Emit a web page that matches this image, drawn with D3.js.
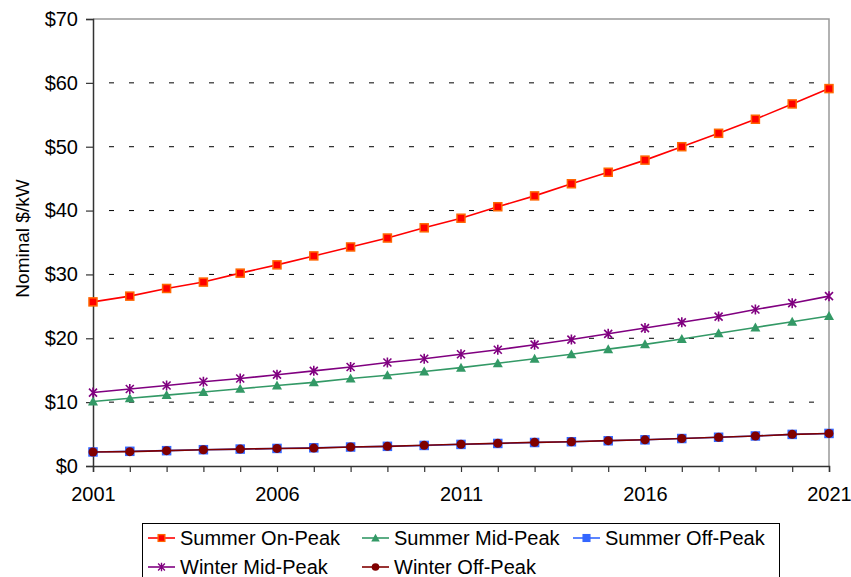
<!DOCTYPE html>
<html>
<head>
<meta charset="utf-8">
<script src="https://cdn.jsdelivr.net/npm/d3@7"></script>
<style>
  body { margin: 0; background: #fff; }
  text { font-family: "Liberation Sans", Arial, sans-serif; }
</style>
</head>
<body>
<div class="container"></div>
<script>
// years along the horizontal axis
const years = d3.range(2001, 2022);
const xTicks = [2001, 2006, 2011, 2016, 2021];
const yTicks = [0, 10, 20, 30, 40, 50, 60, 70];

// values, nominal $/kW
const summerOnPeak = [25.7, 26.6, 27.8, 28.8, 30.2, 31.5, 32.9, 34.3, 35.7, 37.3, 38.8,
  40.6, 42.3, 44.2, 46.0, 47.9, 50.0, 52.1, 54.3, 56.7, 59.1];
const summerMidPeak = [10.1, 10.6, 11.1, 11.6, 12.1, 12.6, 13.1, 13.7, 14.2, 14.8, 15.4,
  16.1, 16.8, 17.5, 18.3, 19.05, 19.9, 20.8, 21.7, 22.6, 23.5];
const summerOffPeak = [2.2, 2.3, 2.4, 2.55, 2.65, 2.75, 2.85, 2.97, 3.08, 3.22, 3.38,
  3.53, 3.68, 3.8, 3.95, 4.1, 4.3, 4.5, 4.7, 4.95, 5.1];
const winterMidPeak = [11.5, 12.05, 12.6, 13.2, 13.7, 14.3, 14.9, 15.5, 16.2, 16.8, 17.5,
  18.2, 19.0, 19.8, 20.7, 21.6, 22.5, 23.4, 24.5, 25.5, 26.6];
const winterOffPeak = [2.2, 2.25, 2.4, 2.55, 2.65, 2.75, 2.8, 2.97, 3.08, 3.24, 3.4,
  3.55, 3.7, 3.8, 3.97, 4.1, 4.3, 4.5, 4.7, 4.96, 5.1];

const series = [
  { name: "Summer On-Peak", values: summerOnPeak, color: "#ff0000", fill: "#ff0000", edge: "#ff6600", symbol: "square" },
  { name: "Summer Mid-Peak", values: summerMidPeak, color: "#339966", fill: "#339966", edge: "#339966", symbol: "triangle" },
  { name: "Summer Off-Peak", values: summerOffPeak, color: "#3366ff", fill: "#3366ff", edge: "#3366ff", symbol: "square" },
  { name: "Winter Mid-Peak", values: winterMidPeak, color: "#800080", fill: "#800080", edge: "#800080", symbol: "star" },
  { name: "Winter Off-Peak", values: winterOffPeak, color: "#800000", fill: "#800000", edge: "#800000", symbol: "circle" }
];

const fullWidth = 851, fullHeight = 577;
const margin = { top: 19, right: 22, bottom: 111, left: 93 };
const width = fullWidth - margin.left - margin.right;
const height = fullHeight - margin.top - margin.bottom;

const svg = d3.select(".container")
  .append("svg")
  .attr("width", fullWidth)
  .attr("height", fullHeight);

const canvas = svg.append("g")
  .attr("transform", `translate(${margin.left}, ${margin.top})`);

const xScale = d3.scaleLinear().domain([2001, 2021]).range([0, width]);
const yScale = d3.scaleLinear().domain([0, 70]).range([height, 0]);

// dashed gridlines
canvas.append("g")
  .selectAll("line")
  .data(yTicks.filter(d => d > 0 && d < 70))
  .join("line")
  .attr("x1", 0)
  .attr("x2", width)
  .attr("y1", d => yScale(d))
  .attr("y2", d => yScale(d))
  .attr("stroke", "#000")
  .attr("stroke-width", 1)
  .attr("stroke-dasharray", "5,15")
  .attr("stroke-dashoffset", -16);

// plot border (top and right in gray)
canvas.append("path")
  .attr("d", `M0,0H${width}V${height}`)
  .attr("fill", "none")
  .attr("stroke", "#999")
  .attr("stroke-width", 1.5);

// axes
const yAxis = d3.axisLeft(yScale)
  .tickValues(yTicks)
  .tickSize(7)
  .tickPadding(8)
  .tickFormat(d => "$" + d);

const xAxis = d3.axisBottom(xScale)
  .tickValues(years)
  .tickSize(6)
  .tickPadding(10)
  .tickFormat(d => xTicks.includes(d) ? d : "");

const gy = canvas.append("g").call(yAxis);
const gx = canvas.append("g").attr("transform", `translate(0, ${height})`).call(xAxis);

[gx, gy].forEach(g => {
  g.select(".domain").attr("stroke", "#333").attr("stroke-width", 1.5);
  g.selectAll(".tick line").attr("stroke", "#333").attr("stroke-width", 1.2);
  g.selectAll("text").attr("font-size", 20).attr("fill", "#000")
    .attr("font-family", "'Liberation Sans', Arial, sans-serif");
});
gx.selectAll("text").attr("dy", "0.95em");

// y axis title
svg.append("text")
  .attr("transform", `translate(29, ${margin.top + height / 2 - 4}) rotate(-90)`)
  .attr("text-anchor", "middle")
  .attr("font-size", 19)
  .text("Nominal $/kW");

// marker drawing
function drawMarker(sel, s) {
  if (s.symbol === "square") {
    sel.append("rect")
      .attr("x", -4).attr("y", -4).attr("width", 8).attr("height", 8)
      .attr("fill", s.fill).attr("stroke", s.edge).attr("stroke-width", 1.5);
  } else if (s.symbol === "triangle") {
    sel.append("path")
      .attr("d", "M0,-5L5,4L-5,4Z")
      .attr("fill", s.fill);
  } else if (s.symbol === "circle") {
    sel.append("circle")
      .attr("r", 4.5)
      .attr("fill", s.fill);
  } else if (s.symbol === "star") {
    sel.append("path")
      .attr("d", "M-4,-4L4,4M-4,4L4,-4M0,-5V5")
      .attr("stroke", s.edge).attr("stroke-width", 1.6).attr("fill", "none");
  }
}

const line = d3.line()
  .x((d, i) => xScale(years[i]))
  .y(d => yScale(d));

// draw order so on-peak sits on top; winter off-peak above summer off-peak
const drawOrder = [2, 4, 1, 3, 0];
drawOrder.forEach(k => {
  const s = series[k];
  const g = canvas.append("g");
  g.append("path")
    .attr("d", line(s.values))
    .attr("fill", "none")
    .attr("stroke", s.color)
    .attr("stroke-width", 1.6);
  g.selectAll("g.pt")
    .data(s.values)
    .join("g")
    .attr("class", "pt")
    .attr("transform", (d, i) => `translate(${xScale(years[i])}, ${yScale(d)})`)
    .each(function() { drawMarker(d3.select(this), s); });
});

// legend
const legend = svg.append("g");
legend.append("rect")
  .attr("x", 142.5).attr("y", 523.5)
  .attr("width", 637).attr("height", 70)
  .attr("fill", "#fff").attr("stroke", "#000").attr("stroke-width", 1);

const legendPos = [
  { x: 148, y: 538 }, { x: 362, y: 538 }, { x: 573, y: 538 },
  { x: 148, y: 567 }, { x: 362, y: 567 }
];

series.forEach((s, i) => {
  const p = legendPos[i];
  const item = legend.append("g").attr("transform", `translate(${p.x}, ${p.y})`);
  item.append("line")
    .attr("x1", 0).attr("x2", 27)
    .attr("stroke", s.color).attr("stroke-width", 1.6);
  const m = item.append("g").attr("transform", "translate(13.5, 0) scale(0.85)");
  drawMarker(m, s);
  item.append("text")
    .attr("x", 32)
    .attr("dy", "0.35em")
    .attr("font-size", 20)
    .text(s.name);
});
</script>
</body>
</html>
